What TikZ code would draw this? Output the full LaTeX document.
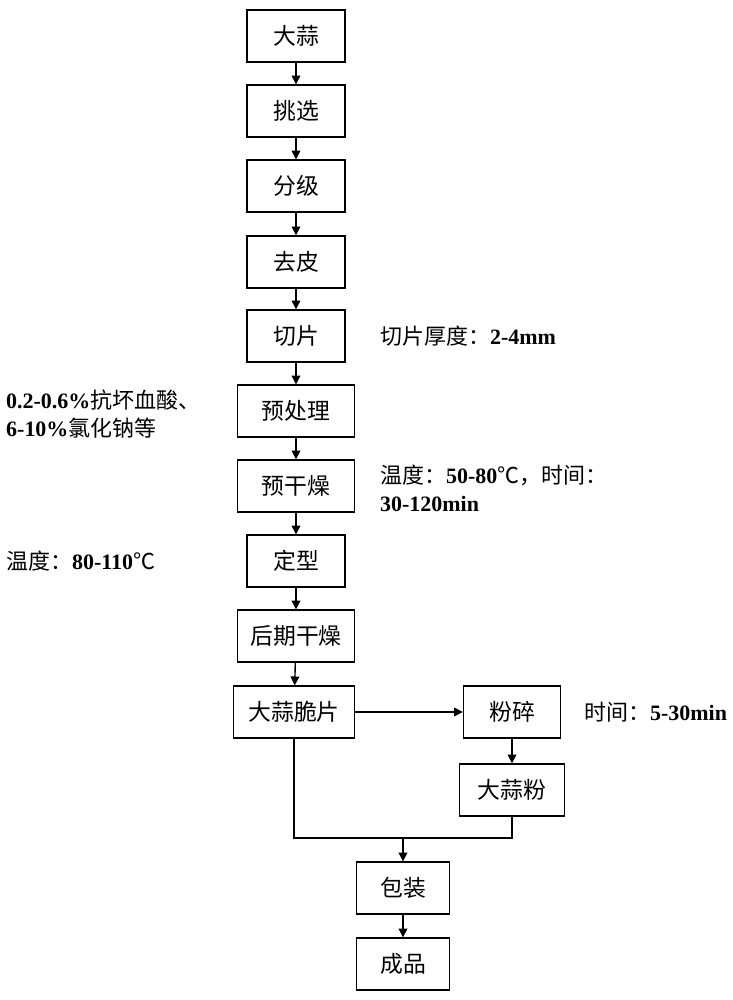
\documentclass[tikz,border=0pt]{standalone}
\usepackage{fontspec}
\setmainfont{Liberation Serif}
\newfontfamily\cjk{Noto Sans CJK SC}
\usetikzlibrary{arrows.meta}
\tikzset{
  stage/.style={draw, rectangle, thick, minimum height=1.04cm, font=\cjk\fontsize{13}{15}\selectfont},
  note/.style={font=\fontsize{12.5}{16}\selectfont, align=left},
  flow/.style={-{Triangle[length=5pt,width=5pt]}, thick}
}
\newcommand{\num}[1]{\textbf{#1}}
\begin{document}
\begin{tikzpicture}[x=0.02cm, y=-0.02cm]
    \useasboundingbox (0,0) rectangle (733,1000);
    % Nodes
    \node (garlic) [stage, minimum width=1.96cm] at (296,36) {大蒜};
    \node (select) [stage, minimum width=1.96cm] at (296,111) {挑选};
    \node (grade) [stage, minimum width=1.96cm] at (296,186) {分级};
    \node (peel) [stage, minimum width=1.96cm] at (296,262) {去皮};
    \node (slice) [stage, minimum width=1.96cm] at (296,336) {切片};
    \node (pretreat) [stage, minimum width=2.34cm] at (296,411) {预处理};
    \node (predry) [stage, minimum width=2.34cm] at (296,486) {预干燥};
    \node (shape) [stage, minimum width=1.96cm] at (296,561) {定型};
    \node (postdry) [stage, minimum width=2.34cm] at (296,636) {后期干燥};
    \node (chips) [stage, minimum width=2.42cm] at (294,712) {大蒜脆片};
    \node (grind) [stage, minimum width=1.94cm] at (512,712) {粉碎};
    \node (powder) [stage, minimum width=2.1cm] at (512,790) {大蒜粉};
    \node (pack) [stage, minimum width=1.86cm] at (403,888) {包装};
    \node (product) [stage, minimum width=1.86cm] at (403,964) {成品};
    \coordinate (join) at (403,838);

    % Notes
    \node (n1) [note, anchor=west] at (374,336) {{\cjk 切片厚度：}\num{2-4mm}};
    \node (n2) [note, anchor=west] at (0,414) {\num{0.2-0.6\%}{\cjk 抗坏血酸、}\\\num{6-10\%}{\cjk 氯化钠等}};
    \node (n3) [note, anchor=west] at (374,488) {{\cjk 温度：}\num{50-80}{\cjk ℃，时间：}\\\num{30-120min}};
    \node (n4) [note, anchor=west] at (0,561) {{\cjk 温度：}\num{80-110}{\cjk ℃}};
    \node (n5) [note, anchor=west] at (578,712) {{\cjk 时间：}\num{5-30min}};

    % Arrows
    \draw[flow] (garlic) -- (select);
    \draw[flow] (select) -- (grade);
    \draw[flow] (grade) -- (peel);
    \draw[flow] (peel) -- (slice);
    \draw[flow] (slice) -- (pretreat);
    \draw[flow] (pretreat) -- (predry);
    \draw[flow] (predry) -- (shape);
    \draw[flow] (shape) -- (postdry);
    \draw[flow] (postdry) -- (chips);
    \draw[flow] (chips) -- (grind);
    \draw[flow] (grind) -- (powder);
    \draw[thick] (chips) |- (join);
    \draw[thick] (powder) |- (join);
    \draw[flow] (join) -- (pack);
    \draw[flow] (pack) -- (product);
\end{tikzpicture}
\end{document}
